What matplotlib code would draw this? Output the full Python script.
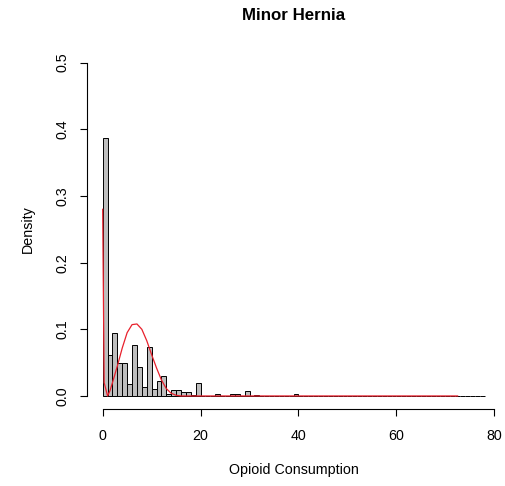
import matplotlib
matplotlib.use("Agg")
import matplotlib.pyplot as plt
import numpy as np

plt.rcParams['font.family'] = ['Liberation Sans', 'DejaVu Sans']

# Histogram: 1-unit bins from 0 to 78, density values
bin_edges = list(range(0, 79))
bin_density = {
    0: 0.387, 1: 0.0615, 2: 0.094, 3: 0.050, 4: 0.050, 5: 0.018, 6: 0.0765,
    7: 0.043, 8: 0.013, 9: 0.074, 10: 0.0105, 11: 0.023, 12: 0.030, 13: 0.003,
    14: 0.009, 15: 0.009, 16: 0.006, 17: 0.006, 18: 0.0015, 19: 0.020,
    23: 0.0025, 26: 0.0025, 27: 0.0025, 29: 0.0075, 31: 0.0013, 39: 0.0025,
    49: 0.0007, 55: 0.0007, 59: 0.0007, 66: 0.0007, 77: 0.0007,
}
densities = [bin_density.get(i, 0.0) for i in range(78)]

# Fitted density curve (red)
curve_x = [0, 0.3, 1.0, 1.5, 2, 3, 4, 5, 6, 7, 8, 9, 10, 11, 12, 13, 14, 15, 16, 72.5]
curve_y = [0.28, 0.02, 0.0, 0.008, 0.02, 0.045, 0.072, 0.095, 0.107, 0.108, 0.1,
           0.083, 0.062, 0.042, 0.024, 0.011, 0.004, 0.001, 0.0, 0.0]

title = "Minor Hernia"
xlabel = "Opioid Consumption"
ylabel = "Density"
xticks = [0, 20, 40, 60, 80]
yticks = [0.0, 0.1, 0.2, 0.3, 0.4, 0.5]

W, H = 506, 486
fig = plt.figure(figsize=(W / 100, H / 100), dpi=100)
left, right, bottom, top = 87.4, 499.8, 409.3, 49.3
ax = fig.add_axes([left / W, 1 - bottom / H, (right - left) / W, (bottom - top) / H])

lefts = bin_edges[:-1]
widths = np.diff(bin_edges)
ax.bar(lefts, densities, width=widths, align='edge', color='#BEBEBE',
       edgecolor='black', linewidth=0.7, zorder=2)
ax.plot(curve_x, curve_y, color='#E8202C', linewidth=0.9, zorder=3)

ax.set_xlim(-3.12, 81.12)
ax.set_ylim(-0.02, 0.52)
for s in ['top', 'right']:
    ax.spines[s].set_visible(False)
ax.spines['bottom'].set_bounds(0, 80)
ax.spines['left'].set_bounds(0, 0.5)
for s in ['bottom', 'left']:
    ax.spines[s].set_linewidth(0.8)

ax.set_xticks(xticks)
ax.set_xticklabels([str(v) for v in xticks])
ax.set_yticks(yticks)
ax.set_yticklabels([f"{v:.1f}" for v in yticks], rotation=90, va='center')
ax.tick_params(axis='x', length=5.3, width=0.8, labelsize=10.3, pad=9)
ax.tick_params(axis='y', length=5.3, width=0.8, labelsize=10.3, pad=7.5)

fig.text(293.6 / W, 1 - 15 / H, title, ha='center', va='center',
         fontsize=12.2, fontweight='bold')
fig.text(293.6 / W, 1 - 470 / H, xlabel, ha='center', va='center', fontsize=10.3)
fig.text(28 / W, 1 - 229 / H, ylabel, ha='center', va='center', fontsize=10.3,
         rotation=90)

fig.savefig("out.png", dpi=100)
